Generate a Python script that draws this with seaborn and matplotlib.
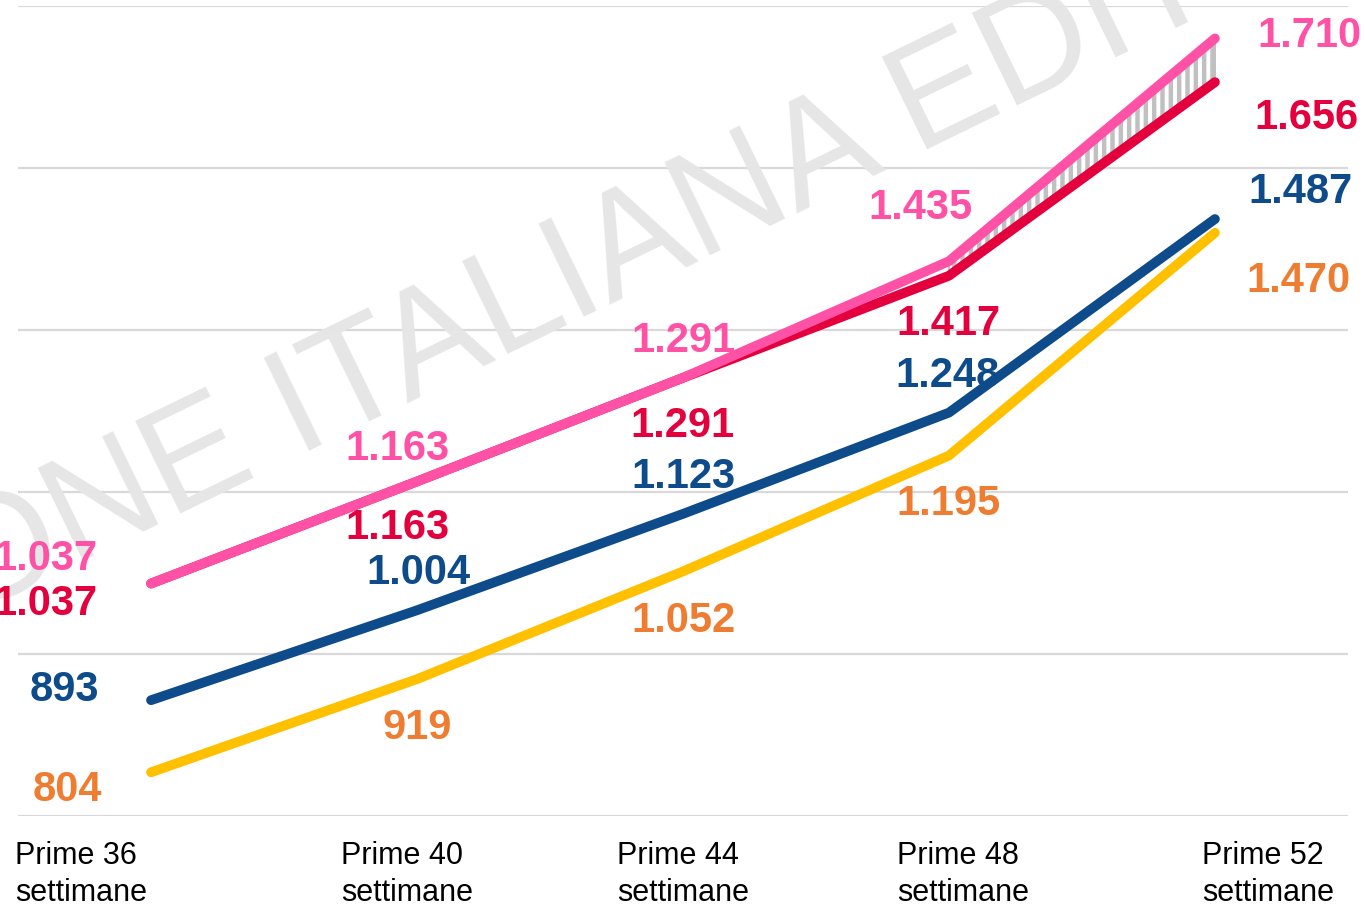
import matplotlib
matplotlib.use("Agg")
import matplotlib.pyplot as plt
import seaborn as sns
import pandas as pd
from matplotlib.transforms import ScaledTranslation

# data
periods = ["Prime 36\nsettimane", "Prime 40\nsettimane", "Prime 44\nsettimane",
           "Prime 48\nsettimane", "Prime 52\nsettimane"]
serie_rosa = [1037, 1163, 1291, 1435, 1710]
serie_rossa = [1037, 1163, 1291, 1417, 1656]
serie_blu = [893, 1004, 1123, 1248, 1487]
serie_gialla = [804, 919, 1052, 1195, 1470]

series = {"rosa": serie_rosa, "rossa": serie_rossa, "blu": serie_blu, "gialla": serie_gialla}
line_colors = {"rosa": "#FF52A6", "rossa": "#E3003D", "blu": "#0E4B8A", "gialla": "#FFC000"}
label_colors = {"rosa": "#FF52A6", "rossa": "#E3003D", "blu": "#0E4B8A", "gialla": "#EE7D31"}

# label offsets in pixels (dx, dy) for each point
label_offsets = {
    "rosa": [(-106, 30), (-20, 37), (0, 42), (-29, 58), (94, 7)],
    "rossa": [(-106, -15), (-20, -42), (-1, -43), (-1, -43), (91, -31)],
    "blu": [(-87, 15), (1, 42), (0, 42), (-1, 42), (86, 32)],
    "gialla": [(-84, -13), (0, -44), (0, -45), (-1, -43), (83, -43)],
}
tick_shift = [-70, -10, 0, 14, 53]

rows = []
for name, vals in series.items():
    for i, v in enumerate(vals):
        rows.append({"x": i, "valore": v, "serie": name})
df = pd.DataFrame(rows)

sns.set_style("white")
plt.rcParams["font.family"] = ["Liberation Sans", "DejaVu Sans"]
plt.rcParams["hatch.linewidth"] = 3.2

fig = plt.figure(figsize=(13.65, 9.07), dpi=100)
ax = fig.add_axes([0.0132, 0.1003, 0.9743, 0.8931])

# watermark (behind lines and labels)
ax.text(0.2476, 0.5656, "ASSOCIAZIONE ITALIANA EDITORI", rotation=26,
        rotation_mode="anchor", ha="center", va="center", transform=fig.transFigure,
        fontsize=108, color="#e6e6e6", zorder=1, clip_on=False)

# hatched band between the two top series in the last stretch
ax.fill_between([3, 4], serie_rossa[3:], serie_rosa[3:], facecolor="white",
                edgecolor="#c0c0c0", hatch="||", linewidth=1.5, zorder=2)

sns.lineplot(data=df, x="x", y="valore", hue="serie",
             hue_order=["gialla", "blu", "rossa", "rosa"],
             palette=line_colors, linewidth=7, legend=False,
             solid_capstyle="round", ax=ax, zorder=3)

for name, vals in series.items():
    for i, v in enumerate(vals):
        dx, dy = label_offsets[name][i]
        txt = f"{v:,}".replace(",", ".")
        ax.annotate(txt, (i, v), xytext=(dx, dy - 5), textcoords="offset pixels",
                    ha="center", va="center", fontsize=30, fontweight="bold",
                    color=label_colors[name], annotation_clip=False, zorder=4)

ax.set_xlim(-0.5, 4.5)
ax.set_ylim(750, 1750)
ax.set_yticks(range(750, 1751, 200))
ax.set_yticklabels([])
ax.grid(axis="y", color="#d9d9d9", linewidth=1.6, zorder=0)
ax.grid(axis="x", visible=False)
ax.set_axisbelow(True)
ax.set_xticks(range(len(periods)))
ax.set_xticklabels(periods, fontsize=22, color="black", multialignment="left",
                   linespacing=1.3)
ax.tick_params(axis="x", length=0, pad=18)
ax.tick_params(axis="y", length=0)
for s in ax.spines.values():
    s.set_visible(False)
ax.set_xlabel("")
ax.set_ylabel("")

for lab, sh in zip(ax.get_xticklabels(), tick_shift):
    lab.set_transform(lab.get_transform() + ScaledTranslation(sh / 100, 0, fig.dpi_scale_trans))

fig.savefig("out.png", dpi=100)
